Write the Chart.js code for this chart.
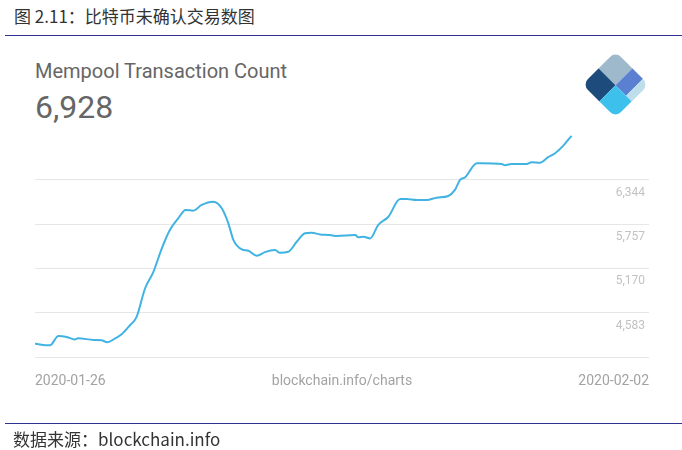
<!DOCTYPE html>
<html>
<head>
<meta charset="utf-8">
<script src="https://cdn.jsdelivr.net/npm/chart.js@4/dist/chart.umd.min.js"></script>
<style>
    html, body {
        margin: 0;
        padding: 0;
        background: #fff;
    }
    #page {
        position: relative;
        width: 682px;
        height: 450px;
        overflow: hidden;
        font-family: Roboto, "Noto Sans", sans-serif;
    }
    #chartCanvas {
        position: absolute;
        left: 0;
        top: 0;
    }
    .cn {
        position: absolute;
        font-family: "Noto Sans CJK SC", "Noto Sans", sans-serif;
        font-size: 17px;
        line-height: 20px;
        color: #333;
        white-space: nowrap;
    }
    .rule {
        position: absolute;
        left: 5px;
        right: 0;
        height: 1px;
        background: #2e318f;
    }
    #cardTitle {
        position: absolute;
        left: 35px;
        top: 59px;
        font-size: 20px;
        line-height: 24px;
        color: #666;
    }
    #cardValue {
        position: absolute;
        left: 35px;
        top: 89px;
        font-size: 32px;
        line-height: 36px;
        color: #666;
    }
    #logo {
        position: absolute;
        left: 592px;
        top: 61px;
        width: 47px;
        height: 47px;
        transform: rotate(45deg);
        border-radius: 8px;
        overflow: hidden;
    }
    #logo div {
        position: absolute;
        width: 23.5px;
        height: 23.5px;
    }
</style>
</head>
<body>
<div id="page">
    <div class="cn" style="left:14px; top:6px;">图 2.11：比特币未确认交易数图</div>
    <div class="rule" style="top:35px;"></div>
    <div id="cardTitle">Mempool Transaction Count</div>
    <div id="cardValue">6,928</div>
    <div id="logo">
        <div style="left:0; top:0; background:#9fb9cc;"></div>
        <div style="left:23.5px; top:0; width:15px; background:#5b7fd1;"></div>
        <div style="left:38.5px; top:0; width:9px; background:#bfdeec;"></div>
        <div style="left:0; top:23.5px; background:#1d4c7c;"></div>
        <div style="left:23.5px; top:23.5px; background:#3dc1ec;"></div>
    </div>
    <canvas id="chartCanvas" width="682" height="450"></canvas>
    <div class="rule" style="top:423px;"></div>
    <div class="cn" style="left:13px; top:429px;">数据来源：blockchain.info</div>
</div>
<script>
    // hours since 2020-01-26 00:00
    const hours = [0, 4.1, 6.4, 8.7, 10.9, 11.8, 16.0, 18.2, 19.8, 21.4,
        23.7, 26.0, 27.8, 30.1, 32.4, 34.7, 36.9, 39.2, 41.2, 43.3,
        45.6, 48.8, 51.1, 52.9, 54.3, 56.6, 58.4, 60.7, 62.9, 65.7,
        67.0, 69.3, 71.6, 73.9, 75.7, 78.0, 80.7, 82.5, 87.6, 88.5,
        89.8, 91.7, 93.9, 96.7, 99.9, 101.7, 104.4, 107.2, 109.9, 113.1,
        114.9, 116.3, 117.7, 120.9, 122.2, 127.7, 128.6, 130.4, 134.5, 135.9,
        138.2, 140.4, 142.3, 144.5, 146.8];

    const mempoolCount = [4171, 4151, 4275, 4262, 4227, 4244, 4222, 4218, 4191, 4227,
        4297, 4417, 4527, 4904, 5125, 5436, 5679, 5834, 5944, 5935,
        6011, 6054, 5967, 5768, 5546, 5422, 5404, 5337, 5386, 5413,
        5377, 5390, 5523, 5635, 5643, 5621, 5612, 5599, 5612, 5582,
        5590, 5568, 5745, 5855, 6090, 6090, 6077, 6077, 6108, 6130,
        6210, 6343, 6378, 6564, 6564, 6555, 6538, 6555, 6555, 6578,
        6572, 6644, 6697, 6794, 6928];

    const yTicks = [3996, 4583, 5170, 5757, 6344];
    const xLabels = ['2020-01-26', 'blockchain.info/charts', '2020-02-02'];

    const points = hours.map(function (h, i) {
        return { x: h, y: mempoolCount[i] };
    });

    // bottom caption row: left date, source in the middle, right date
    const xLabelPlugin = {
        id: 'xLabels',
        afterDraw: function (chart) {
            const ctx = chart.ctx;
            const area = chart.chartArea;
            const y = 381;
            ctx.save();
            ctx.font = '14px Roboto';
            ctx.fillStyle = '#a3a3a3';
            ctx.textBaseline = 'middle';
            ctx.textAlign = 'left';
            ctx.fillText(xLabels[0], area.left, y);
            ctx.textAlign = 'center';
            ctx.fillText(xLabels[1], (area.left + area.right) / 2, y);
            ctx.textAlign = 'right';
            ctx.fillText(xLabels[2], area.right, y);
            ctx.restore();
        }
    };

    new Chart(document.getElementById('chartCanvas'), {
        type: 'line',
        data: {
            datasets: [{
                data: points,
                borderColor: '#41b3e3',
                borderWidth: 2,
                pointRadius: 0,
                fill: false,
                cubicInterpolationMode: 'monotone'
            }]
        },
        options: {
            responsive: false,
            animation: false,
            layout: {
                padding: {
                    left: 35,
                    right: 33,
                    top: 100,
                    bottom: 93
                }
            },
            plugins: {
                legend: { display: false },
                tooltip: { enabled: false }
            },
            scales: {
                x: {
                    type: 'linear',
                    min: 0,
                    max: 168,
                    display: false
                },
                y: {
                    position: 'right',
                    min: 3996,
                    max: 7402,
                    afterBuildTicks: function (scale) {
                        scale.ticks = yTicks.map(function (v) {
                            return { value: v };
                        });
                    },
                    border: { display: false },
                    grid: {
                        color: '#e6e6e6',
                        drawTicks: false
                    },
                    ticks: {
                        mirror: true,
                        padding: -4,
                        labelOffset: 13,
                        color: '#c2c2c2',
                        font: { family: 'Roboto', size: 12 },
                        callback: function (value) {
                            return value === yTicks[0] ? '' : value.toLocaleString('en-US');
                        }
                    }
                }
            }
        },
        plugins: [xLabelPlugin]
    });
</script>
</body>
</html>
